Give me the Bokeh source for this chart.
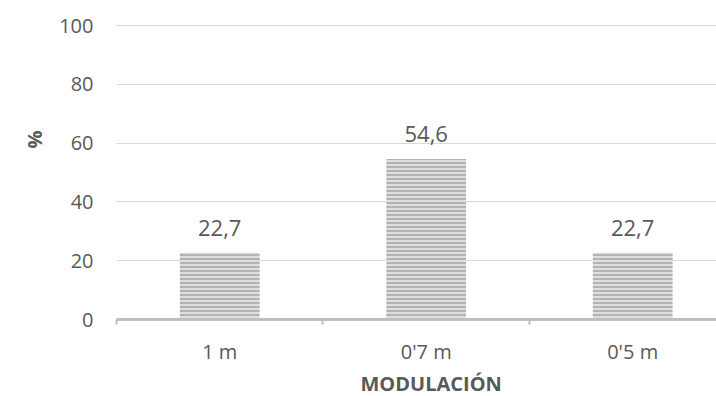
from bokeh.plotting import figure
from bokeh.models import FixedTicker, ColumnDataSource, Range1d, Title
from bokeh.core.properties import value
from bokeh.embed import file_html
from bokeh.resources import INLINE

categories = ["1 m", "0'7 m", "0'5 m"]
percentages = [22.7, 54.6, 22.7]
y_ticks = [0, 20, 40, 60, 80, 100]

FONT = "Open Sans"
TXT = "#595959"

xs = [i + 0.5 for i in range(len(categories))]
labels = [f"{v:.1f}".replace(".", ",") for v in percentages]
src = ColumnDataSource(dict(x=xs, top=percentages, label=labels))

p = figure(width=716, height=396, output_backend="svg", toolbar_location=None,
           x_range=Range1d(0, 2.906), y_range=Range1d(0, 100.4),
           min_border_left=116, min_border_right=0, min_border_top=24, min_border_bottom=76)
p.outline_line_color = None
p.background_fill_color = "white"

p.vbar(x="x", top="top", width=0.386, bottom=0, source=src,
       fill_color="#dedede", line_color=None,
       hatch_pattern="horizontal_line", hatch_color="#a8a8a8",
       hatch_scale=4, hatch_weight=1.6)

p.text(x="x", y="top", text="label", source=src, y_offset=-25,
       text_align="center", text_baseline="alphabetic",
       text_font=value(FONT), text_font_size="22px", text_color=TXT)

# grid
p.xgrid.grid_line_color = None
p.ygrid.ticker = FixedTicker(ticks=y_ticks)
p.ygrid.grid_line_color = "#d9d9d9"
p.ygrid.grid_line_width = 1

# y axis
p.yaxis.ticker = FixedTicker(ticks=y_ticks)
p.yaxis.axis_line_color = None
p.yaxis.major_tick_line_color = None
p.yaxis.minor_tick_line_color = None
p.yaxis.major_tick_out = 0
p.yaxis.major_tick_in = 0
p.yaxis.major_label_standoff = 23
p.yaxis.major_label_text_font = FONT
p.yaxis.major_label_text_font_size = "20px"
p.yaxis.major_label_text_color = TXT

# x axis
p.xaxis.ticker = FixedTicker(ticks=xs, minor_ticks=[0, 1, 2, 3])
p.xaxis.major_label_overrides = {x: c for x, c in zip(xs, categories)}
p.xaxis.axis_line_color = "#bfbfbf"
p.xaxis.axis_line_width = 3
p.xaxis.major_tick_line_color = None
p.xaxis.major_tick_out = 0
p.xaxis.major_tick_in = 0
p.xaxis.minor_tick_line_color = "#bfbfbf"
p.xaxis.minor_tick_line_width = 2
p.xaxis.minor_tick_out = 5
p.xaxis.minor_tick_in = 0
p.xaxis.major_label_standoff = 13
p.xaxis.major_label_text_font = FONT
p.xaxis.major_label_text_font_size = "20px"
p.xaxis.major_label_text_color = TXT

p.add_layout(Title(text="MODULACIÓN", align="left", offset=244, standoff=0,
                   text_font=FONT, text_font_style="bold", text_font_size="20px",
                   text_color=TXT), "below")

p.add_layout(Title(text="%", align="left", offset=171, standoff=18,
                   text_font=FONT, text_font_style="bold", text_font_size="20px",
                   text_color=TXT), "left")

open("out.html", "w").write(file_html(p, INLINE))
